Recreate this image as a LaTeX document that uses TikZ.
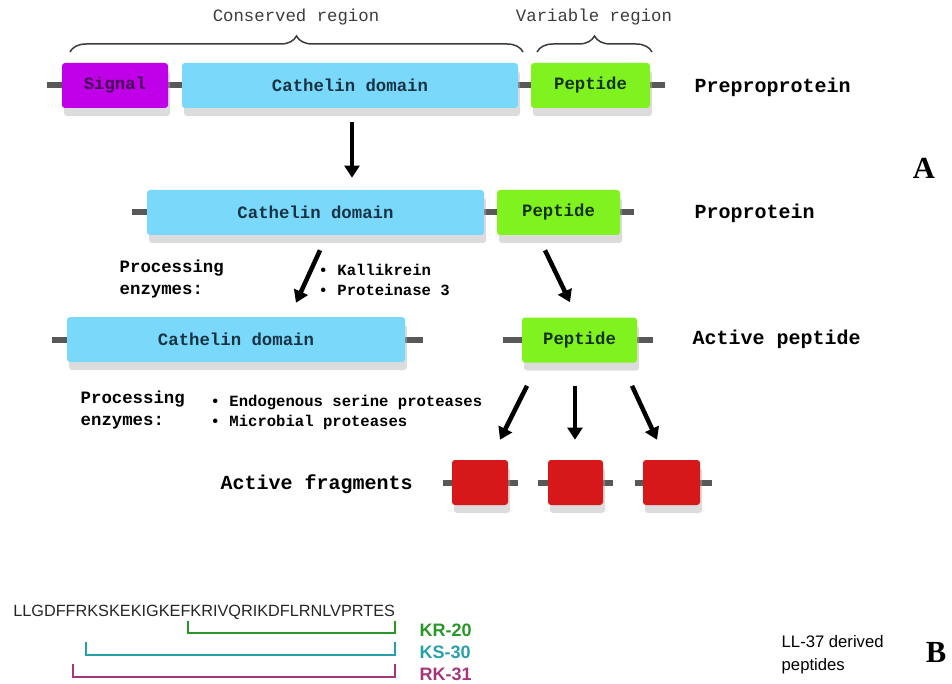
\documentclass[tikz,border=0pt]{standalone}
\usepackage{fontspec}
\usepackage{tikz}
\usetikzlibrary{arrows.meta,calc,shadows,backgrounds,decorations.pathreplacing}
\setmainfont{Liberation Serif}
\newfontfamily\monofont{Liberation Mono}
\newfontfamily\seqfont{Liberation Sans}

\newdimen\pxu \pxu=0.75pt

\definecolor{signalc}{RGB}{192,0,232}
\definecolor{signaltext}{RGB}{70,0,85}
\definecolor{cathc}{RGB}{122,216,250}
\definecolor{pepc}{RGB}{128,242,32}
\definecolor{peptext}{RGB}{20,50,20}
\definecolor{fragc}{RGB}{214,24,26}
\definecolor{linkc}{RGB}{88,88,88}
\definecolor{boxtext}{RGB}{22,52,68}
\definecolor{bracec}{RGB}{60,60,60}
\definecolor{krc}{RGB}{40,150,40}
\definecolor{ksc}{RGB}{40,160,170}
\definecolor{rkc}{RGB}{165,55,120}

\newcommand\boxfont{\monofont\bfseries\fontsize{13}{15}\selectfont}
\newcommand\stagefont{\monofont\bfseries\fontsize{15}{18}\selectfont}

\tikzset{
  protbox/.style={rectangle, rounded corners=3\pxu, inner sep=0pt,
    minimum height=45\pxu, text=boxtext, font=\boxfont,
    drop shadow={shadow xshift=2\pxu, shadow yshift=-8\pxu, fill=black!30, opacity=.45}},
  signalbox/.style={protbox, fill=signalc, text=signaltext},
  cathbox/.style={protbox, fill=cathc},
  pepbox/.style={protbox, fill=pepc, text=peptext},
  fragbox/.style={protbox, fill=fragc},
  linker/.style={draw=linkc, line width=6\pxu},
  flow/.style={-{Triangle[length=9pt,width=11pt]}, line width=4.5\pxu, black},
  stage/.style={anchor=west, font=\stagefont},
  region/.style={font=\monofont\fontsize{13}{15}\selectfont, text=bracec},
  regbrace/.style={draw=bracec, line width=1.5\pxu,
    decoration={brace, amplitude=12pt}, decorate},
  enzyme/.style={anchor=west, align=left, font=\monofont\bfseries\fontsize{13}{16.5}\selectfont},
  enzlist/.style={anchor=west, align=left, font=\monofont\bfseries\fontsize{11.7}{15}\selectfont},
  panel/.style={font=\bfseries\fontsize{23}{26}\selectfont},
  bracket/.style={line width=2\pxu},
  fraglbl/.style={anchor=west, font=\seqfont\bfseries\fontsize{13.5}{15}\selectfont}
}

\begin{document}
\begin{tikzpicture}[x=0.75pt,y=-0.75pt]
    \useasboundingbox (0,0) rectangle (952,684);

    % preproprotein
    \node[signalbox, minimum width=106\pxu] (sig1) at (115,85.5) {Signal};
    \node[cathbox, minimum width=336\pxu] (cat1) at (350,85.5) {Cathelin domain};
    \node[pepbox, minimum width=119\pxu] (pep1) at (590.5,85.5) {Peptide};
    \node[stage] (prelbl) at (690,87) {Preproprotein};

    % proprotein
    \node[cathbox, minimum width=337\pxu] (cat2) at (315.5,212.5) {Cathelin domain};
    \node[pepbox, minimum width=123\pxu] (pep2) at (558.5,212.5) {Peptide};
    \node[stage] (prolbl) at (690,213) {Proprotein};

    % cleaved
    \node[cathbox, minimum width=338\pxu] (cat3) at (236,339.5) {Cathelin domain};
    \node[pepbox, minimum width=115\pxu] (pep3) at (579.5,340) {Peptide};
    \node[stage] (actlbl) at (688,339) {Active peptide};

    % fragments
    \node[fragbox, minimum width=56\pxu] (frag1) at (480,482.5) {};
    \node[fragbox, minimum width=55\pxu] (frag2) at (575.5,482.5) {};
    \node[fragbox, minimum width=57\pxu] (frag3) at (671.5,482.5) {};
    \node[stage] (fraglbl) at (216,484) {Active fragments};

    \begin{scope}[on background layer]
    \draw[linker] ($(sig1.west)+(-15,0)$) -- ($(pep1.east)+(15,0)$);
    \draw[linker] ($(cat2.west)+(-15,0)$) -- ($(pep2.east)+(14,0)$);
    \draw[linker] ($(cat3.west)+(-15,0)$) -- ($(cat3.east)+(18,0)$);
    \draw[linker] ($(pep3.west)+(-19,0)$) -- ($(pep3.east)+(16,0)$);
    \draw[linker] ($(frag1.west)+(-9,0)$) -- ($(frag1.east)+(10,0)$);
    \draw[linker] ($(frag2.west)+(-10,0)$) -- ($(frag2.east)+(10,0)$);
    \draw[linker] ($(frag3.west)+(-8,0)$) -- ($(frag3.east)+(12,0)$);
    \end{scope}

    % regions
    \draw[regbrace] (70,52) -- (523,52);
    \draw[regbrace] (537,52) -- (652,52);
    \node[region] (conslbl) at (296,17) {Conserved region};
    \node[region] (varlbl) at (594,17) {Variable region};

    % processing
    \node[enzyme] (proc1) at (115,279) {Processing\\enzymes:};
    \node[enzlist] (enz1) at (314,280) {• Kallikrein\\• Proteinase 3};
    \node[enzyme] (proc2) at (76,410) {Processing\\enzymes:};
    \node[enzlist] (enz2) at (206,412) {• Endogenous serine proteases\\• Microbial proteases};

    \draw[flow] ($(cat1.south)+(2,14)$) -- ($(cat2.north)+(36.5,-12)$);
    \draw[flow] ($(cat2.south)+(4.5,15)$) -- ($(cat3.north)+(60,-14)$);
    \draw[flow] ($(pep2.south)+(-13.5,15)$) -- ($(pep3.north)+(-9.5,-15)$);
    \draw[flow] ($(pep3.south)+(-52.5,23)$) -- ($(frag1.north)+(20,-20)$);
    \draw[flow] ($(pep3.south)+(-4.5,23)$) -- ($(frag2.north)+(-0.5,-20)$);
    \draw[flow] ($(pep3.south)+(52.5,23)$) -- ($(frag3.north)+(-14.5,-20)$);

    \node[panel] (panelA) at (924,168) {A};

    % LL-37
    \node[anchor=west, inner sep=0pt, text=black!85, font=\seqfont\fontsize{12.2}{14}\selectfont] (seq) at (13,612) {LLGDFFRKSKEKIGKEFKRIVQRIKDFLRNLVPRTES};
    \draw[bracket, krc] (188,621) -- (188,633) -- (395,633) -- (395,621);
    \draw[bracket, ksc] (86,642) -- (86,655) -- (395,655) -- (395,642);
    \draw[bracket, rkc] (73,664) -- (73,677) -- (395,677) -- (395,664);
    \node[fraglbl, text=krc] (kr) at (415,630) {KR-20};
    \node[fraglbl, text=ksc] (ks) at (415,652) {KS-30};
    \node[fraglbl, text=rkc] (rk) at (415,674) {RK-31};
    \node[anchor=west, align=left, font=\seqfont\fontsize{12.5}{17}\selectfont] (lllbl) at (777,655) {LL-37 derived\\peptides};
    \node[panel] (panelB) at (936,652) {B};

\end{tikzpicture}
\end{document}
